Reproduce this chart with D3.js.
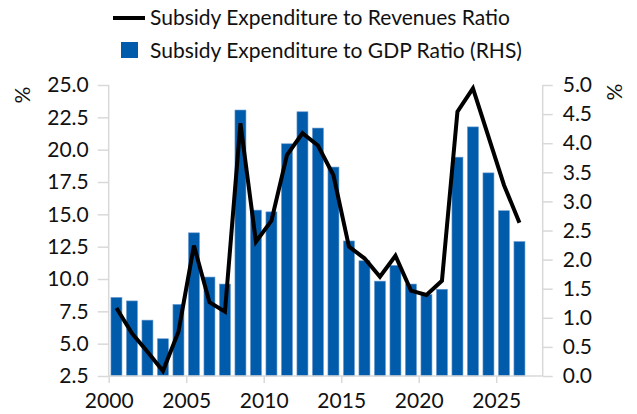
<!DOCTYPE html>
<html>
<head>
<meta charset="utf-8">
<script src="https://cdn.jsdelivr.net/npm/d3@7"></script>
<style>
  body { margin: 0; background: #fff; }
  text { font-family: Lato, "Open Sans", sans-serif; fill: #111; }
</style>
</head>
<body>
<div id="chart"></div>
<script>
// years 2000..2026
var years = d3.range(2000, 2027);
// subsidy expenditure to GDP ratio (RHS, %)
var gdpRatio = [1.35, 1.29, 0.96, 0.64, 1.23, 2.46, 1.70, 1.58, 4.57, 2.85,
                2.82, 3.99, 4.54, 4.26, 3.59, 2.32, 1.98, 1.63, 1.90, 1.58,
                1.40, 1.49, 3.76, 4.28, 3.49, 2.84, 2.31];
// subsidy expenditure to revenues ratio (LHS, %)
var revRatio = [7.76, 5.80, 4.38, 2.89, 5.93, 12.58, 8.20, 7.47, 22.04, 12.88,
                14.51, 19.59, 21.27, 20.32, 18.02, 12.50, 11.60, 10.18, 11.80, 9.10,
                8.76, 9.87, 22.94, 24.74, 21.00, 17.27, 14.35];
var leftTicks = [2.5, 5, 7.5, 10, 12.5, 15, 17.5, 20, 22.5, 25];
var rightTicks = [0, 0.5, 1, 1.5, 2, 2.5, 3, 3.5, 4, 4.5, 5];
var xTicks = [2000, 2005, 2010, 2015, 2020, 2025];

var width = 637, height = 414;
var plotLeft = 108.7, plotRight = 542.7, plotTop = 85, plotBottom = 376;
var axisColor = '#d9d9d9';
var barColor = '#005BAA';

var svg = d3.select('#chart').append('svg')
  .attr('width', width)
  .attr('height', height);

var x = d3.scaleLinear().domain([2000, 2028]).range([plotLeft, plotRight]);
var yL = d3.scaleLinear().domain([2.5, 25]).range([plotBottom, plotTop]);
var yR = d3.scaleLinear().domain([0, 5]).range([plotBottom, plotTop]);
var slot = x(2001) - x(2000);
var barW = slot * 0.71;

// bars
svg.append('g').selectAll('rect')
  .data(years)
  .enter().append('rect')
  .attr('x', function(d) { return x(d) + (slot - barW) / 2; })
  .attr('y', function(d, i) { return yR(gdpRatio[i]); })
  .attr('width', barW)
  .attr('height', function(d, i) { return plotBottom - yR(gdpRatio[i]); })
  .style('fill', barColor)
  .style('stroke', '#6a9bd0')
  .style('stroke-width', 0.6);

// axes
var gL = svg.append('g')
  .attr('transform', 'translate(' + plotLeft + ',0)')
  .call(d3.axisLeft(yL).tickValues(leftTicks).tickFormat(d3.format('.1f')).tickSize(11).tickPadding(9));
var gR = svg.append('g')
  .attr('transform', 'translate(' + plotRight + ',0)')
  .call(d3.axisRight(yR).tickValues(rightTicks).tickFormat(d3.format('.1f')).tickSize(10).tickPadding(10));
var gX = svg.append('g')
  .attr('transform', 'translate(0,' + plotBottom + ')')
  .call(d3.axisBottom(x).tickValues(xTicks).tickFormat(d3.format('d')).tickSize(7).tickPadding(10));

[gL, gR, gX].forEach(function(g) {
  g.select('.domain').attr('stroke', axisColor).attr('stroke-width', 1.5);
  g.selectAll('.tick line').attr('stroke', axisColor).attr('stroke-width', 1.5);
  g.selectAll('.tick text').style('font-family', 'Lato, sans-serif').style('font-size', '21px').attr('fill', '#111');
});
gL.select('.domain').attr('d', 'M0,' + plotTop + 'V' + plotBottom);
gR.select('.domain').attr('d', 'M0,' + plotTop + 'V' + plotBottom);
gX.select('.domain').attr('d', 'M' + plotLeft + ',0H' + plotRight);

// line
var line = d3.line()
  .x(function(d) { return x(d) + slot / 2; })
  .y(function(d, i) { return yL(revRatio[i]); });
svg.append('path')
  .datum(years)
  .attr('d', line)
  .attr('fill', 'none')
  .attr('stroke', '#000')
  .attr('stroke-width', 4)
  .attr('stroke-linejoin', 'miter');

// unit labels
svg.append('text')
  .attr('transform', 'translate(30,95) rotate(-90)')
  .style('font-size', '21px')
  .attr('text-anchor', 'middle')
  .text('%');
svg.append('text')
  .attr('transform', 'translate(622,92) rotate(-90)')
  .style('font-size', '21px')
  .attr('text-anchor', 'middle')
  .text('%');

// legend
var legend = svg.append('g');
legend.append('line')
  .attr('x1', 113).attr('x2', 145).attr('y1', 18).attr('y2', 18)
  .attr('stroke', '#000').attr('stroke-width', 4);
legend.append('text')
  .attr('x', 150).attr('y', 25)
  .style('font-size', '21px')
  .text('Subsidy Expenditure to Revenues Ratio');
legend.append('rect')
  .attr('x', 121).attr('y', 42).attr('width', 17).attr('height', 16)
  .style('fill', barColor);
legend.append('text')
  .attr('x', 150).attr('y', 58)
  .style('font-size', '21px')
  .text('Subsidy Expenditure to GDP Ratio (RHS)');
</script>
</body>
</html>
